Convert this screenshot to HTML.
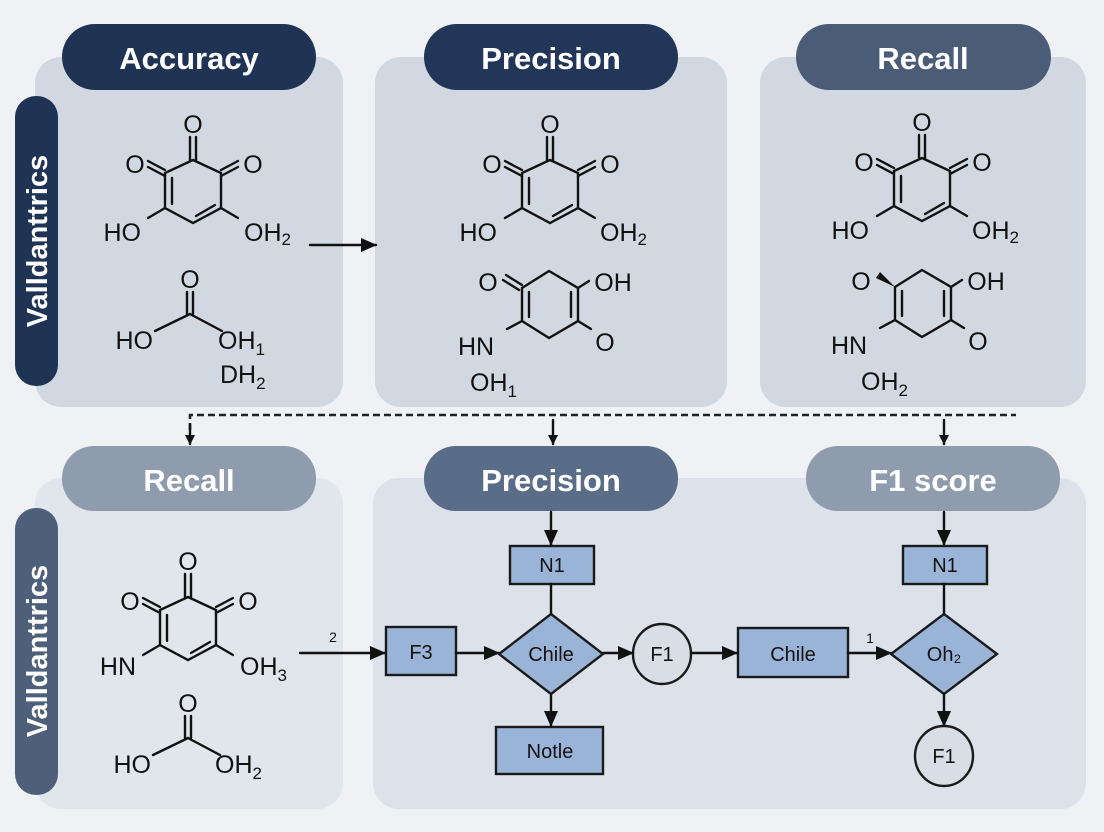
<!DOCTYPE html>
<html><head><meta charset="utf-8"><style>
html,body{margin:0;padding:0;background:#eff1f4;}
svg{display:block;}
text{font-family:"Liberation Sans",sans-serif;}
.t{font-weight:bold;fill:#fff;font-size:31px;text-anchor:middle;}
.a{font-size:25px;fill:#111;}
.f{font-size:20px;fill:#111;text-anchor:middle;}
.b{stroke:#111;stroke-width:2.4;fill:none;stroke-linecap:round;}
</style></head><body>
<svg width="1104" height="832" viewBox="0 0 1104 832" xmlns="http://www.w3.org/2000/svg">
<defs>
<marker id="ah" markerWidth="10" markerHeight="10" refX="9" refY="5" orient="auto" markerUnits="userSpaceOnUse"><path d="M0,0 L10,5 L0,10 z" fill="#111"/></marker>
<marker id="ah2" markerWidth="16" markerHeight="14" refX="15" refY="7" orient="auto" markerUnits="userSpaceOnUse"><path d="M0,0 L16,7 L0,14 z" fill="#111"/></marker>
<g id="ring">
<path class="b" d="M0,0 L-28,13 L-28,48 L0,63 L28,48 L28,13 Z"/>
<line class="b" x1="-21" y1="18" x2="-21" y2="44"/>
<line class="b" x1="3" y1="56" x2="22" y2="45"/>
<line class="b" x1="-3" y1="0" x2="-3" y2="-23"/><line class="b" x1="3" y1="0" x2="3" y2="-23"/>
<line class="b" x1="-28" y1="10" x2="-45" y2="1"/><line class="b" x1="-28" y1="16" x2="-45" y2="7"/>
<line class="b" x1="28" y1="10" x2="45" y2="1"/><line class="b" x1="28" y1="16" x2="45" y2="7"/>
<line class="b" x1="-28" y1="48" x2="-45" y2="58"/>
<line class="b" x1="28" y1="48" x2="45" y2="58"/>
<text class="a" x="0" y="-27" text-anchor="middle">O</text>
<text class="a" x="-58" y="13" text-anchor="middle">O</text>
<text class="a" x="60" y="13" text-anchor="middle">O</text>
</g>
<g id="acid">
<line class="b" x1="-3" y1="0" x2="-3" y2="-22"/><line class="b" x1="3" y1="0" x2="3" y2="-22"/>
<line class="b" x1="0" y1="0" x2="-35" y2="17"/><line class="b" x1="0" y1="0" x2="32" y2="17"/>
<text class="a" x="0" y="-26" text-anchor="middle">O</text>
</g>
<g id="ring2">
<path class="b" d="M0,0 L-27,17 L-27,50 L0,67 L29,50 L29,17 Z"/>
<line class="b" x1="-20" y1="21" x2="-20" y2="46"/>
<line class="b" x1="22" y1="21" x2="22" y2="46"/>
<line class="b" x1="29" y1="17" x2="40" y2="10"/>
<line class="b" x1="29" y1="50" x2="42" y2="58"/>
<line class="b" x1="-27" y1="50" x2="-42" y2="58"/>
<text class="a" x="64" y="20" text-anchor="middle">OH</text>
<text class="a" x="56" y="80" text-anchor="middle">O</text>
<text class="a" x="-73" y="84" text-anchor="middle">HN</text>
</g>
</defs>

<rect x="35" y="57" width="308" height="350" rx="26" fill="#d2d8e1"/>
<rect x="375" y="57" width="352" height="350" rx="26" fill="#d2d8e1"/>
<rect x="760" y="57" width="326" height="350" rx="26" fill="#d2d8e1"/>
<rect x="62" y="24" width="254" height="66" rx="33" fill="#1f3354"/>
<text class="t" x="189" y="69">Accuracy</text>
<rect x="424" y="24" width="254" height="66" rx="33" fill="#213658"/>
<text class="t" x="551" y="69">Precision</text>
<rect x="796" y="24" width="255" height="66" rx="33" fill="#4a5c76"/>
<text class="t" x="923" y="69">Recall</text>
<rect x="15" y="96" width="43" height="290" rx="21" fill="#1f3354"/>
<text class="t" transform="translate(47,241) rotate(-90)" style="font-size:29px">Valldanttrics</text>

<use href="#ring" x="193" y="160"/>
<text class="a" x="141" y="241" text-anchor="end">HO</text>
<text class="a" x="244" y="241">OH<tspan font-size="17" dy="4">2</tspan></text>
<use href="#acid" x="190" y="314"/>
<text class="a" x="153" y="349" text-anchor="end">HO</text>
<text class="a" x="218" y="349">OH<tspan font-size="17" dy="6">1</tspan></text>
<text class="a" x="220" y="383">DH<tspan font-size="17" dy="6">2</tspan></text>
<line class="b" x1="310" y1="245" x2="376" y2="245" marker-end="url(#ah2)"/>

<use href="#ring" x="550" y="160"/>
<text class="a" x="497" y="241" text-anchor="end">HO</text>
<text class="a" x="600" y="241">OH<tspan font-size="17" dy="4">2</tspan></text>
<use href="#ring2" x="549" y="271"/>
<line class="b" x1="522" y1="285" x2="506" y2="275"/><line class="b" x1="519" y1="290" x2="503" y2="280"/>
<text class="a" x="488" y="291" text-anchor="middle">O</text>
<text class="a" x="470" y="391">OH<tspan font-size="17" dy="6">1</tspan></text>

<use href="#ring" x="922" y="158"/>
<text class="a" x="869" y="239" text-anchor="end">HO</text>
<text class="a" x="972" y="239">OH<tspan font-size="17" dy="4">2</tspan></text>
<use href="#ring2" x="922" y="270"/>
<path d="M895,287 L876,278 L880,272 Z" fill="#111"/>
<text class="a" x="861" y="290" text-anchor="middle">O</text>
<text class="a" x="861" y="390">OH<tspan font-size="17" dy="6">2</tspan></text>

<path d="M190,430 L190,415 L1016,415" stroke="#222" stroke-width="2.6" stroke-dasharray="7,4" fill="none"/>
<line class="b" x1="190" y1="425" x2="190" y2="444" marker-end="url(#ah)"/>
<line class="b" x1="553" y1="420" x2="553" y2="444" marker-end="url(#ah)"/>
<line class="b" x1="944" y1="420" x2="944" y2="444" marker-end="url(#ah)"/>

<rect x="35" y="478" width="308" height="331" rx="26" fill="#e1e5ec"/>
<rect x="373" y="478" width="713" height="331" rx="26" fill="#dce1ea"/>
<rect x="62" y="446" width="254" height="65" rx="32" fill="#8e9cad"/>
<text class="t" x="189" y="491">Recall</text>
<rect x="424" y="446" width="254" height="65" rx="32" fill="#5a6d88"/>
<text class="t" x="551" y="491">Precision</text>
<rect x="806" y="446" width="254" height="65" rx="32" fill="#8e9cad"/>
<text class="t" x="933" y="491">F1 score</text>
<rect x="15" y="508" width="43" height="287" rx="21" fill="#4e6079"/>
<text class="t" transform="translate(47,651) rotate(-90)" style="font-size:29px">Valldanttrics</text>

<use href="#ring" x="188" y="597"/>
<text class="a" x="136" y="675" text-anchor="end">HN</text>
<text class="a" x="240" y="675">OH<tspan font-size="17" dy="6">3</tspan></text>
<use href="#acid" x="188" y="738"/>
<text class="a" x="151" y="773" text-anchor="end">HO</text>
<text class="a" x="215" y="773">OH<tspan font-size="17" dy="6">2</tspan></text>
<line class="b" x1="300" y1="653" x2="385" y2="653" marker-end="url(#ah2)"/>
<text x="333" y="642" font-size="14" fill="#111" text-anchor="middle">2</text>

<g stroke="#1a1a1a" stroke-width="2.4" fill="#9ab4d8">
<rect x="510" y="546" width="84" height="38"/>
<rect x="386" y="627" width="70" height="48"/>
<path d="M551,614 L603,654 L551,694 L499,654 Z"/>
<ellipse cx="662" cy="654" rx="29" ry="30" fill="#d8dde6"/>
<rect x="738" y="628" width="110" height="49"/>
<path d="M944,614 L997,654 L944,694 L891,654 Z"/>
<rect x="903" y="546" width="84" height="38"/>
<ellipse cx="944" cy="756" rx="29" ry="30" fill="#d8dde6"/>
<rect x="496" y="727" width="107" height="47"/>
</g>
<text class="f" x="552" y="572">N1</text>
<text class="f" x="421" y="659">F3</text>
<text class="f" x="551" y="661">Chile</text>
<text class="f" x="662" y="661">F1</text>
<text class="f" x="793" y="661">Chile</text>
<text class="f" x="944" y="661">Oh₂</text>
<text class="f" x="945" y="572">N1</text>
<text class="f" x="944" y="763">F1</text>
<text class="f" x="550" y="758">Notle</text>
<line class="b" x1="551" y1="512" x2="551" y2="545" marker-end="url(#ah2)"/>
<line class="b" x1="551" y1="584" x2="551" y2="614"/>
<line class="b" x1="456" y1="653" x2="499" y2="653" marker-end="url(#ah2)"/>
<line class="b" x1="603" y1="653" x2="633" y2="653" marker-end="url(#ah2)"/>
<line class="b" x1="691" y1="653" x2="737" y2="653" marker-end="url(#ah2)"/>
<line class="b" x1="848" y1="653" x2="891" y2="653" marker-end="url(#ah2)"/>
<text x="870" y="643" font-size="14" fill="#111" text-anchor="middle">1</text>
<line class="b" x1="944" y1="512" x2="944" y2="545" marker-end="url(#ah2)"/>
<line class="b" x1="944" y1="584" x2="944" y2="614"/>
<line class="b" x1="944" y1="694" x2="944" y2="726" marker-end="url(#ah2)"/>
<line class="b" x1="551" y1="694" x2="551" y2="726" marker-end="url(#ah2)"/>
</svg>
</body></html>
